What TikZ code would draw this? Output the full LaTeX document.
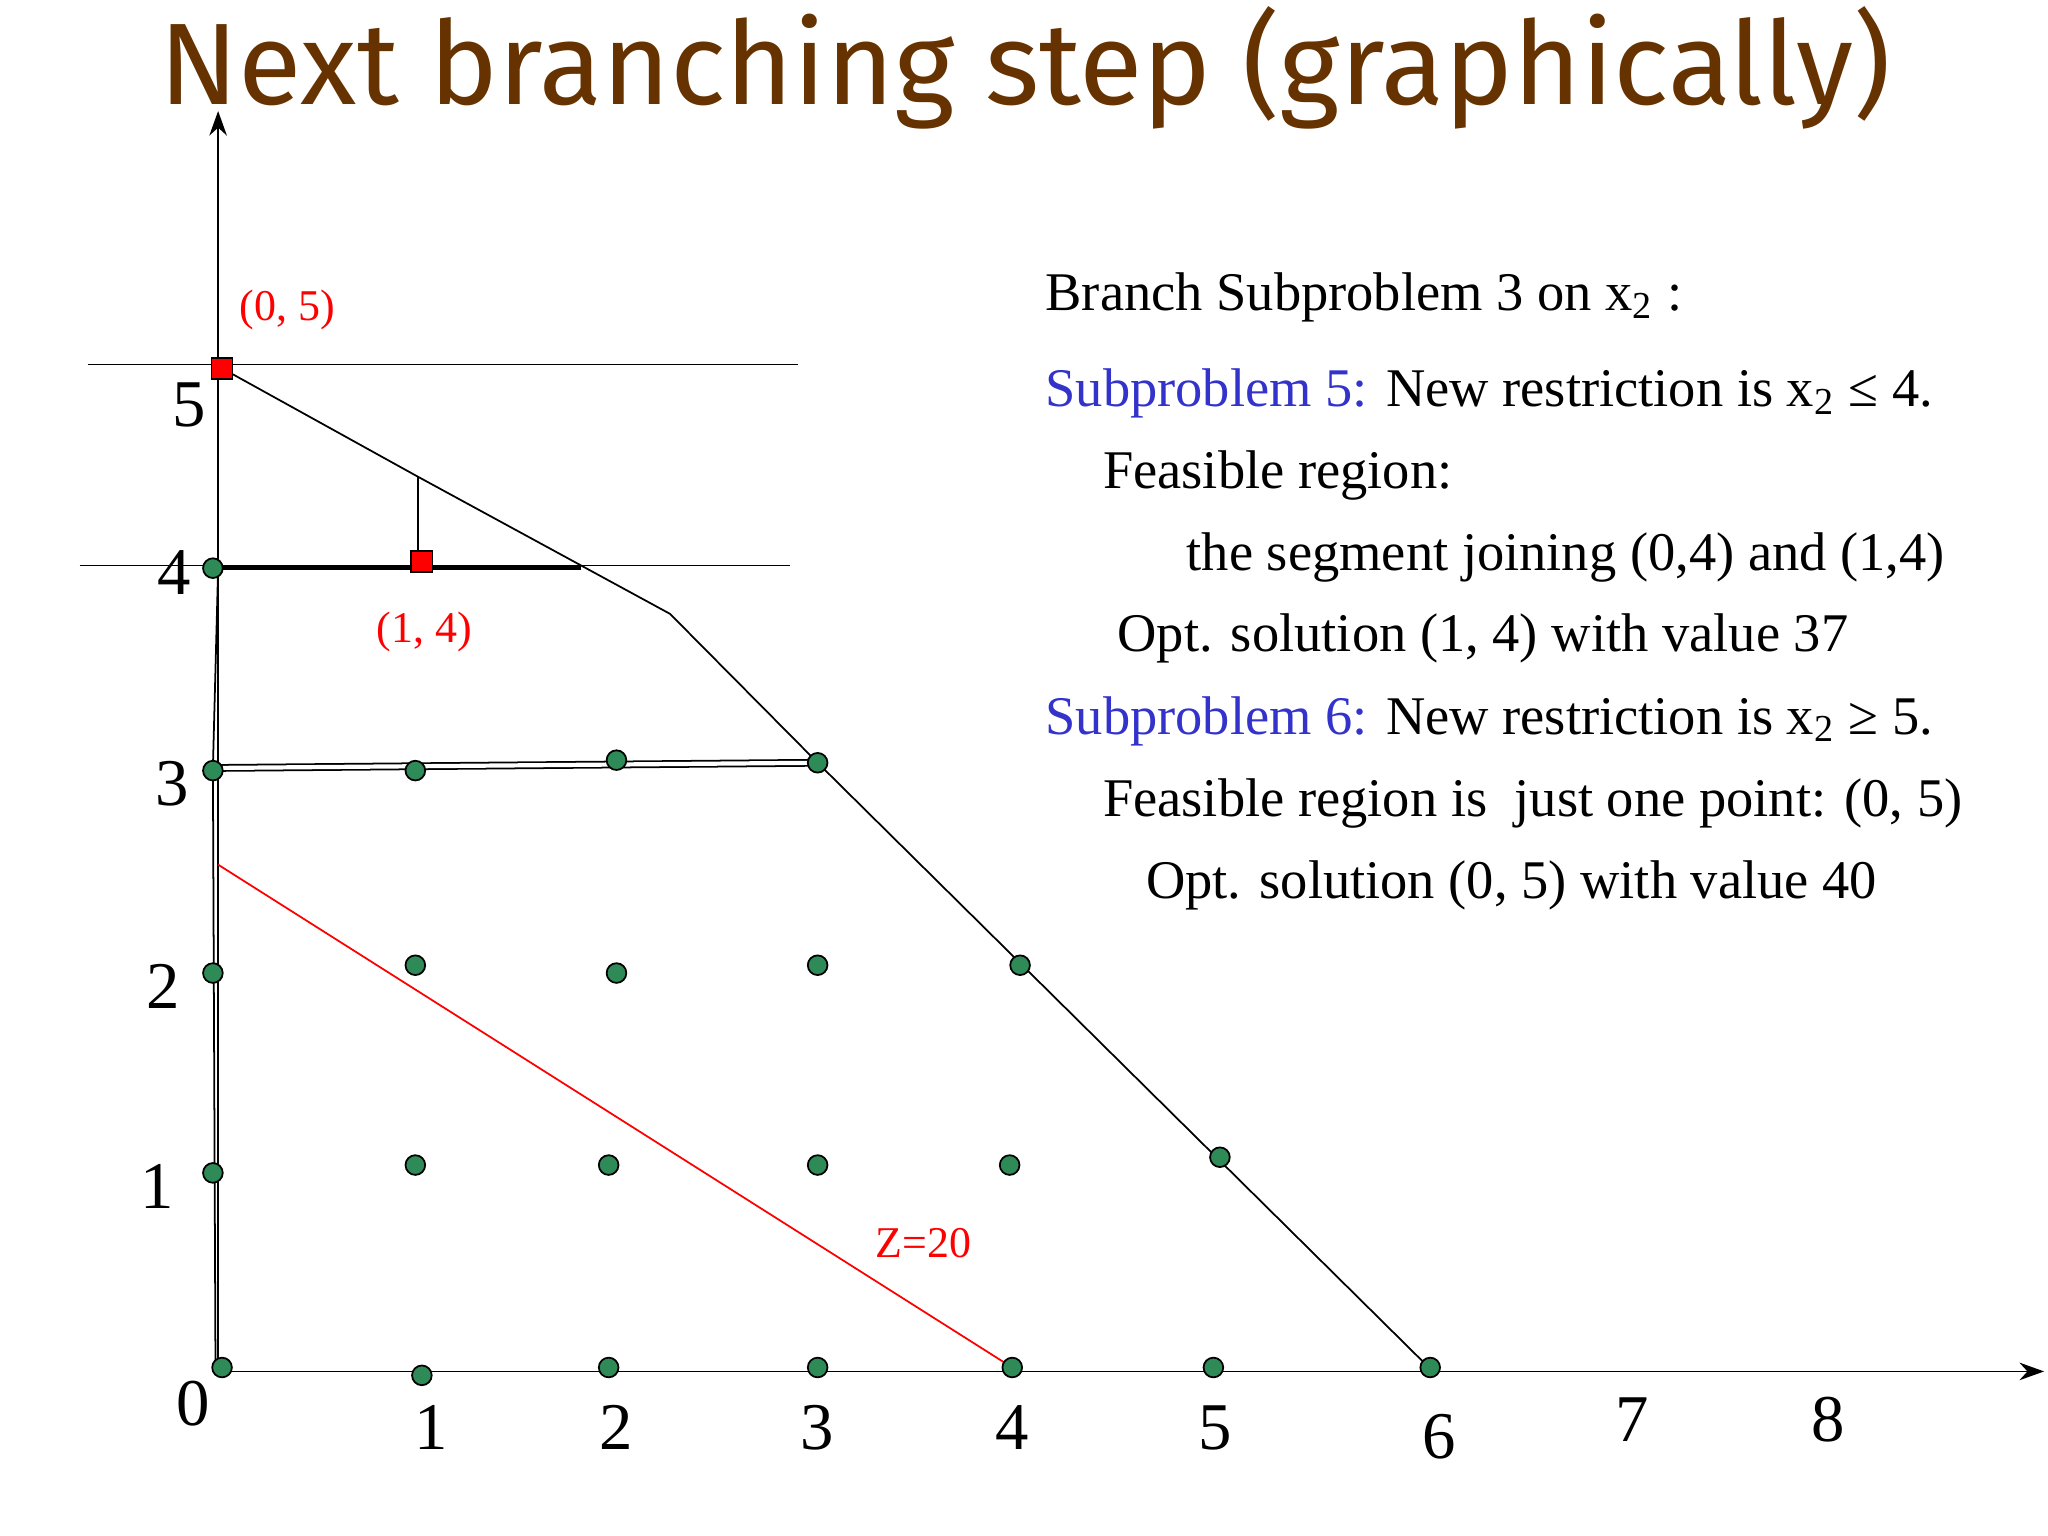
\documentclass[tikz,border=0pt]{standalone}
\usepackage{fontspec}
\setmainfont{Liberation Serif}
\newfontfamily\titlefont{Fira Sans}
\usetikzlibrary{arrows.meta}
\definecolor{titlebrown}{RGB}{102,51,0}
\definecolor{dotgreen}{RGB}{46,139,87}
\definecolor{subblue}{RGB}{51,51,204}
\tikzset{
  dot/.style={circle,draw=black,fill=dotgreen,inner sep=0pt,minimum size=5.6pt,line width=0.5pt},
  sq/.style={rectangle,draw=black,fill=red,inner sep=0pt,minimum size=6pt,line width=0.5pt},
  tick/.style={font=\fontsize{19}{20}\selectfont},
  txt/.style={anchor=west,font=\fontsize{15.5}{17}\selectfont,inner sep=0pt},
  redlbl/.style={text=red,font=\fontsize{12.5}{14}\selectfont},
  thin line/.style={line width=0.5pt}
}
\begin{document}
\begin{tikzpicture}[x=0.013061cm,y=-0.013061cm]
\useasboundingbox (0,0) rectangle (1568,1176);
\node[text=titlebrown,font=\titlefont\fontsize{33}{36}\selectfont] (title) at (785,52) {Next branching step (graphically)};
% axes
\coordinate (O) at (167,1050);
\coordinate (ytop) at (167,85);
\coordinate (xend) at (1565,1050);
\draw[thin line,-{Stealth[length=7pt,width=5pt]}] (O) -- (ytop);
\draw[thin line,-{Stealth[length=7pt,width=5pt]}] (O) -- (xend);
% horizontal restriction lines
\coordinate (h5a) at (67,279); \coordinate (h5b) at (611,279);
\coordinate (h4a) at (61,433); \coordinate (h4b) at (605,433);
\draw[thin line] (h5a) -- (h5b);
\draw[thin line] (h4a) -- (h4b);
% feasible region boundary
\coordinate (p5) at (170,282);
\coordinate (pm) at (320,365);
\coordinate (pk) at (513,470);
\coordinate (p33) at (626,584);
\coordinate (p60) at (1095,1048);
\coordinate (p04) at (167,435);
\coordinate (p03) at (163,588);
\coordinate (p00) at (165,1050);
\coordinate (pe4) at (445,435);
\draw[thin line] (p5) -- (pm) -- (pk) -- (p33) -- (p60);
\draw[thin line] (pm) -- (320,428);
\draw[thin line] (p04) -- (p03) -- (p00);
\draw[line width=1.2pt] (p04) -- (pe4);
\draw[thin line,double=white,double distance=1.2pt] (p03) -- (p33);
% objective line
\coordinate (z1) at (167,662); \coordinate (z2) at (775,1047);
\draw[red,thin line] (z1) -- (z2);
\node[redlbl] (zl) at (707,952) {Z=20};
% dots
\foreach \n/\x/\y in {a/170/1047,b/323/1053,c/466/1047,d/626/1047,e/775/1047,f/929/1047,g/1095/1047,
 h/163/898,i/318/892,j/466/892,k/626/892,l/773/892,m/934/886,
 n/163/745,o/318/739,p/472/745,q/626/739,r/781/739,
 s/163/590,t/318/590,u/472/582,v/626/584,w/163/435}
 \node[dot] (d\n) at (\x,\y) {};
\node[sq] (s05) at (170,282) {};
\node[sq] (s14) at (323,430) {};
\node[redlbl] (l05) at (220,237) {(0, 5)};
\node[redlbl] (l14) at (325,484) {(1, 4)};
% tick labels
\foreach \n/\t/\x/\y in {x0/0/148/1075,x1/1/330/1093,x2/2/472/1093,x3/3/626/1093,x4/4/775/1093,x5/5/930/1093,x6/6/1102/1100,x7/7/1250/1087,x8/8/1400/1087,
 y1/1/120/908,y2/2/125/755,y3/3/132/600,y4/4/133/438,y5/5/145/310}
 \node[tick] (t\n) at (\x,\y) {\t};
% text
\node[txt] (r1) at (800,228) {Branch Subproblem 3 on x\textsubscript{2} :};
\node[txt] (r2) at (800,301) {\textcolor{subblue}{Subproblem 5:} New restriction is x\textsubscript{2} ≤ 4.};
\node[txt] (r3) at (844,364) {Feasible region:};
\node[txt] (r4) at (908,427) {the segment joining (0,4) and (1,4)};
\node[txt] (r5) at (855,489) {Opt. solution (1, 4) with value 37};
\node[txt] (r6) at (800,552) {\textcolor{subblue}{Subproblem 6:} New restriction is x\textsubscript{2} ≥ 5.};
\node[txt] (r7) at (844,615) {Feasible region is \ just one point: (0, 5)};
\node[txt] (r8) at (877,678) {Opt. solution (0, 5) with value 40};
\end{tikzpicture}
\end{document}
